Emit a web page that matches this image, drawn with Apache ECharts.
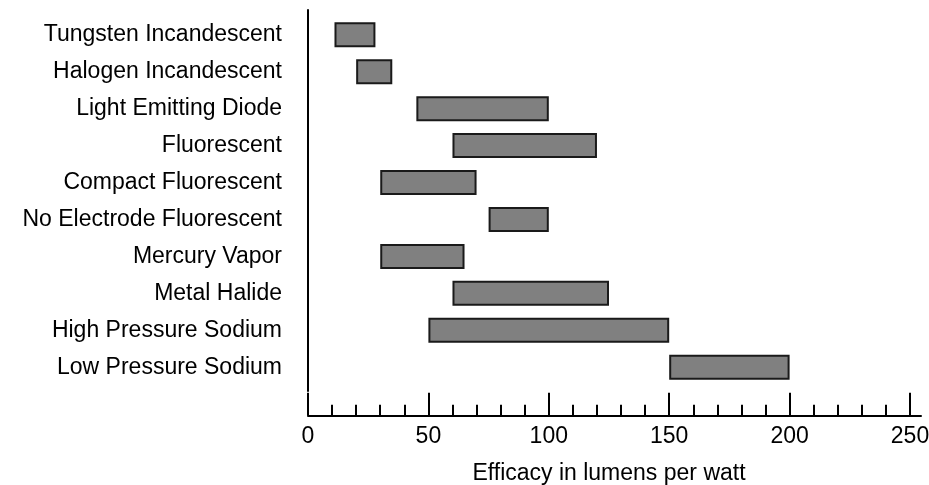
<!DOCTYPE html>
<html>
<head>
<meta charset="utf-8">
<script src="https://cdn.jsdelivr.net/npm/echarts@6/dist/echarts.min.js"></script>
<style>html,body{margin:0;padding:0;background:#fff}#c{width:929px;height:485px}</style>
</head>
<body>
<div id="c"></div>
<script>
const categories = ["Tungsten Incandescent","Halogen Incandescent","Light Emitting Diode","Fluorescent","Compact Fluorescent","No Electrode Fluorescent","Mercury Vapor","Metal Halide","High Pressure Sodium","Low Pressure Sodium"];
const lowValues  = [11, 20, 45, 60, 30, 75, 30, 60, 50, 150];
const highValues = [28, 35, 100, 120, 70, 100, 65, 125, 150, 200];
const xTicks = [0, 50, 100, 150, 200, 250];
const axisTitle = "Efficacy in lumens per watt";

const FONT = "'Liberation Sans', Arial, sans-serif";
const chart = echarts.init(document.getElementById('c'), null, {renderer: 'canvas'});
const spans = highValues.map((h, i) => h - lowValues[i]);
chart.setOption({
  animation: false,
  backgroundColor: '#fff',
  grid: [
    {left: 308, right: 19, top: 16.3, bottom: 99.3, containLabel: false, outerBoundsMode: 'none'},
    {left: 308, right: 8, top: 300, bottom: 69, containLabel: false, outerBoundsMode: 'none'},
    {left: 308, right: 500, top: 10, bottom: 94, containLabel: false, outerBoundsMode: 'none'}
  ],
  xAxis: [
    {
      gridIndex: 0, type: 'value', min: xTicks[0], max: xTicks[xTicks.length - 1], interval: 50,
      offset: 30,
      axisLine: {show: false},
      axisTick: {show: true, inside: true, length: 23, lineStyle: {color: '#000', width: 2}},
      minorTick: {show: true, splitNumber: 5, length: 11, lineStyle: {color: '#000', width: 2}},
      splitLine: {show: false},
      axisLabel: {color: '#000', fontSize: 23, fontFamily: FONT, margin: 9},
      name: axisTitle, nameLocation: 'middle', nameGap: 46,
      nameTextStyle: {color: '#000', fontSize: 23, fontFamily: FONT}
    },
    {
      gridIndex: 1, type: 'value', min: 0, max: 1,
      axisLine: {show: true, lineStyle: {color: '#000', width: 2}},
      axisTick: {show: false}, axisLabel: {show: false}, splitLine: {show: false}
    },
    {gridIndex: 2, type: 'value', show: false}
  ],
  yAxis: [
    {
      gridIndex: 0, type: 'category', data: categories, inverse: true,
      axisLine: {show: false}, axisTick: {show: false},
      axisLabel: {color: '#000', fontSize: 23, fontFamily: FONT, margin: 26}
    },
    {gridIndex: 1, type: 'value', show: false},
    {
      gridIndex: 2, type: 'value', min: 0, max: 1,
      axisLine: {show: true, lineStyle: {color: '#000', width: 2}},
      axisTick: {show: false}, axisLabel: {show: false}, splitLine: {show: false}
    }
  ],
  series: [
    {
      type: 'bar', xAxisIndex: 0, yAxisIndex: 0, stack: 'r', barWidth: 25,
      itemStyle: {color: 'transparent'}, silent: true,
      data: lowValues
    },
    {
      type: 'bar', xAxisIndex: 0, yAxisIndex: 0, stack: 'r', barWidth: 25,
      itemStyle: {color: '#808080', borderColor: '#1a1a1a', borderWidth: 2},
      data: spans
    }
  ]
});
</script>
</body>
</html>
